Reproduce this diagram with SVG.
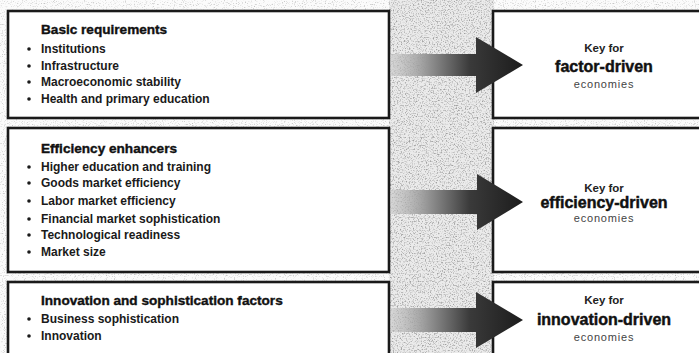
<svg xmlns="http://www.w3.org/2000/svg" width="699" height="353" viewBox="0 0 699 353">
<defs>
<filter id="noise" x="0" y="0" width="100%" height="100%">
<feTurbulence type="fractalNoise" baseFrequency="0.75" numOctaves="2" seed="7" result="t"/>
<feColorMatrix in="t" type="matrix" values="0 0 0 0 0.35  0 0 0 0 0.35  0 0 0 0 0.35  3.2 0 0 0 -1.55"/>
</filter>
<filter id="noiseLight" x="0" y="0" width="100%" height="100%">
<feTurbulence type="fractalNoise" baseFrequency="0.9" numOctaves="1" seed="2" result="t"/>
<feColorMatrix in="t" type="matrix" values="0 0 0 0 0.45  0 0 0 0 0.45  0 0 0 0 0.45  3 0 0 0 -1.65"/>
</filter>
<linearGradient id="arrowGrad" gradientUnits="userSpaceOnUse" x1="390" y1="0" x2="523" y2="0">
<stop offset="0" stop-color="#c4c4c4" stop-opacity="0.5"/>
<stop offset="0.3" stop-color="#909090"/>
<stop offset="0.6" stop-color="#3a3a3a"/>
<stop offset="1" stop-color="#1c1c1c"/>
</linearGradient>
<style>
.box{fill:#fff;stroke:#1a1a1a;stroke-width:2.6}
.head{font-family:"Liberation Sans",Arial,sans-serif;font-weight:700;font-size:13.6px;fill:#111;stroke:#111;stroke-width:0.4}
.item{font-family:"Liberation Sans",Arial,sans-serif;font-weight:700;font-size:12px;fill:#1a1a1a}
.dot{fill:#1a1a1a}
.key{font-family:"Liberation Sans",Arial,sans-serif;font-weight:700;font-size:11.5px;fill:#222;text-anchor:middle}
.big{font-family:"Liberation Sans",Arial,sans-serif;font-weight:700;font-size:16px;fill:#111;stroke:#111;stroke-width:0.45;text-anchor:middle}
.eco{font-family:"Liberation Sans",Arial,sans-serif;font-size:11px;letter-spacing:0.8px;fill:#444;text-anchor:middle}
.arrow{fill:url(#arrowGrad)}
</style>
</defs>
<rect width="699" height="353" fill="#fbfbfb"/>
<rect width="699" height="353" filter="url(#noiseLight)"/>
<rect x="389" y="0" width="105" height="353" fill="#ebebeb"/>
<rect x="389" y="0" width="105" height="353" filter="url(#noise)"/>

<g id="basic">
<rect class="box" x="8" y="11" width="381" height="107"/>
<text class="head" x="41" y="34">Basic requirements</text>
<circle class="dot" cx="29" cy="49" r="1.8"/><text class="item" x="41" y="53">Institutions</text>
<circle class="dot" cx="29" cy="66" r="1.8"/><text class="item" x="41" y="70">Infrastructure</text>
<circle class="dot" cx="29" cy="82" r="1.8"/><text class="item" x="41" y="86">Macroeconomic stability</text>
<circle class="dot" cx="29" cy="99" r="1.8"/><text class="item" x="41" y="103">Health and primary education</text>
</g>

<g id="efficiency">
<rect class="box" x="8" y="128" width="381" height="144"/>
<text class="head" x="41" y="153">Efficiency enhancers</text>
<circle class="dot" cx="29" cy="167" r="1.8"/><text class="item" x="41" y="171">Higher education and training</text>
<circle class="dot" cx="29" cy="183" r="1.8"/><text class="item" x="41" y="187">Goods market efficiency</text>
<circle class="dot" cx="29" cy="201" r="1.8"/><text class="item" x="41" y="205">Labor market efficiency</text>
<circle class="dot" cx="29" cy="219" r="1.8"/><text class="item" x="41" y="223">Financial market sophistication</text>
<circle class="dot" cx="29" cy="235" r="1.8"/><text class="item" x="41" y="239">Technological readiness</text>
<circle class="dot" cx="29" cy="252" r="1.8"/><text class="item" x="41" y="256">Market size</text>
</g>

<g id="innovation">
<rect class="box" x="8" y="282" width="381" height="90"/>
<text class="head" x="41" y="305">Innovation and sophistication factors</text>
<circle class="dot" cx="29" cy="319" r="1.8"/><text class="item" x="41" y="323">Business sophistication</text>
<circle class="dot" cx="29" cy="336" r="1.8"/><text class="item" x="41" y="340">Innovation</text>
</g>

<g id="key-factor">
<rect class="box" x="493" y="11" width="220" height="107"/>
<text class="key" x="604" y="52">Key for</text>
<text class="big" x="604" y="72">factor-driven</text>
<text class="eco" x="604" y="88">economies</text>
</g>

<g id="key-efficiency">
<rect class="box" x="493" y="128" width="220" height="144"/>
<text class="key" x="604" y="192">Key for</text>
<text class="big" x="604" y="208">efficiency-driven</text>
<text class="eco" x="604" y="222">economies</text>
</g>

<g id="key-innovation">
<rect class="box" x="493" y="282" width="220" height="90"/>
<text class="key" x="604" y="304">Key for</text>
<text class="big" x="604" y="325">innovation-driven</text>
<text class="eco" x="604" y="341">economies</text>
</g>

<g id="connectors">
<path class="arrow" d="M390,54 L476,54 L476,37 L523,65 L476,93 L476,76 L390,76 Z"/>
<path class="arrow" d="M390,190 L477,190 L477,174 L523,202 L477,230 L477,214 L390,214 Z"/>
<path class="arrow" d="M390,308 L476,308 L476,292 L523,320 L476,348 L476,332 L390,332 Z"/>
</g>
</svg>
